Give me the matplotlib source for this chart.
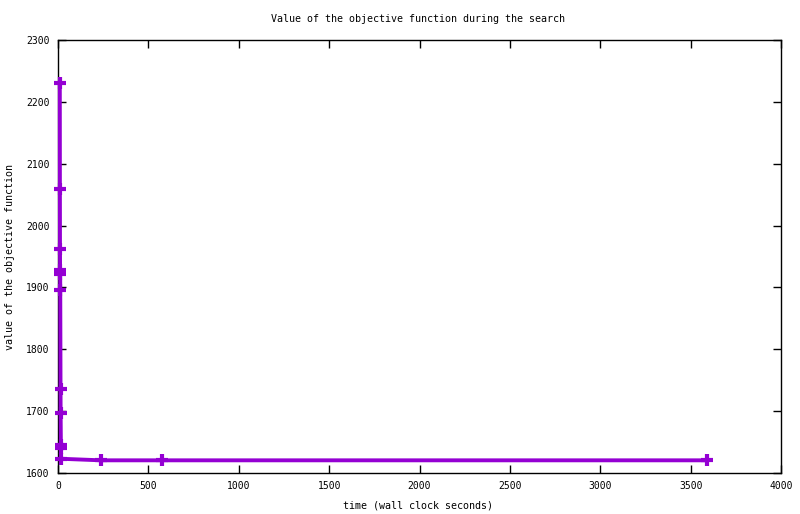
import matplotlib
matplotlib.use("Agg")
import matplotlib.pyplot as plt

# data: best objective value over wall clock time
times = [10, 10.5, 11, 11.5, 12, 12.5, 14, 14.5, 16, 16.5, 17, 238, 574, 3590]
values = [2230, 2059, 1962, 1928, 1922, 1896, 1736, 1697, 1645, 1641, 1623, 1620.5, 1620.5, 1620.5]

xticks = [0, 500, 1000, 1500, 2000, 2500, 3000, 3500, 4000]
yticks = [1600, 1700, 1800, 1900, 2000, 2100, 2200, 2300]

title = "Value of the objective function during the search"
xlabel = "time (wall clock seconds)"
ylabel = "value of the objective function"

plt.rcParams['font.family'] = ['DejaVu Sans Mono']
fig = plt.figure(figsize=(8.0, 5.14), dpi=100)
ax = fig.add_axes([58/800, 1 - 473/514, (781 - 58)/800, (473 - 40)/514])

ax.plot(times, values, color='#9400D3', linewidth=2.8, marker='+',
        markersize=8, markeredgewidth=3.0, solid_joinstyle='miter',
        clip_on=False, zorder=5)

ax.set_xlim(0, 4000)
ax.set_ylim(1600, 2300)
ax.set_xticks(xticks)
ax.set_yticks(yticks)
ax.tick_params(direction='in', length=6, width=1, top=True, right=True,
               labelsize=7, pad=6, colors='black')
for s in ax.spines.values():
    s.set_linewidth(1)
    s.set_color('black')

fig.text(418/800, 1 - 19/514, title, ha='center', va='center', fontsize=7.2)
fig.text(418/800, 1 - 505/514, xlabel, ha='center', va='center', fontsize=7.2)
fig.text(10/800, 1 - 257/514, ylabel, ha='center', va='center', rotation=90, fontsize=7.2)

fig.savefig("out.png", dpi=100)
